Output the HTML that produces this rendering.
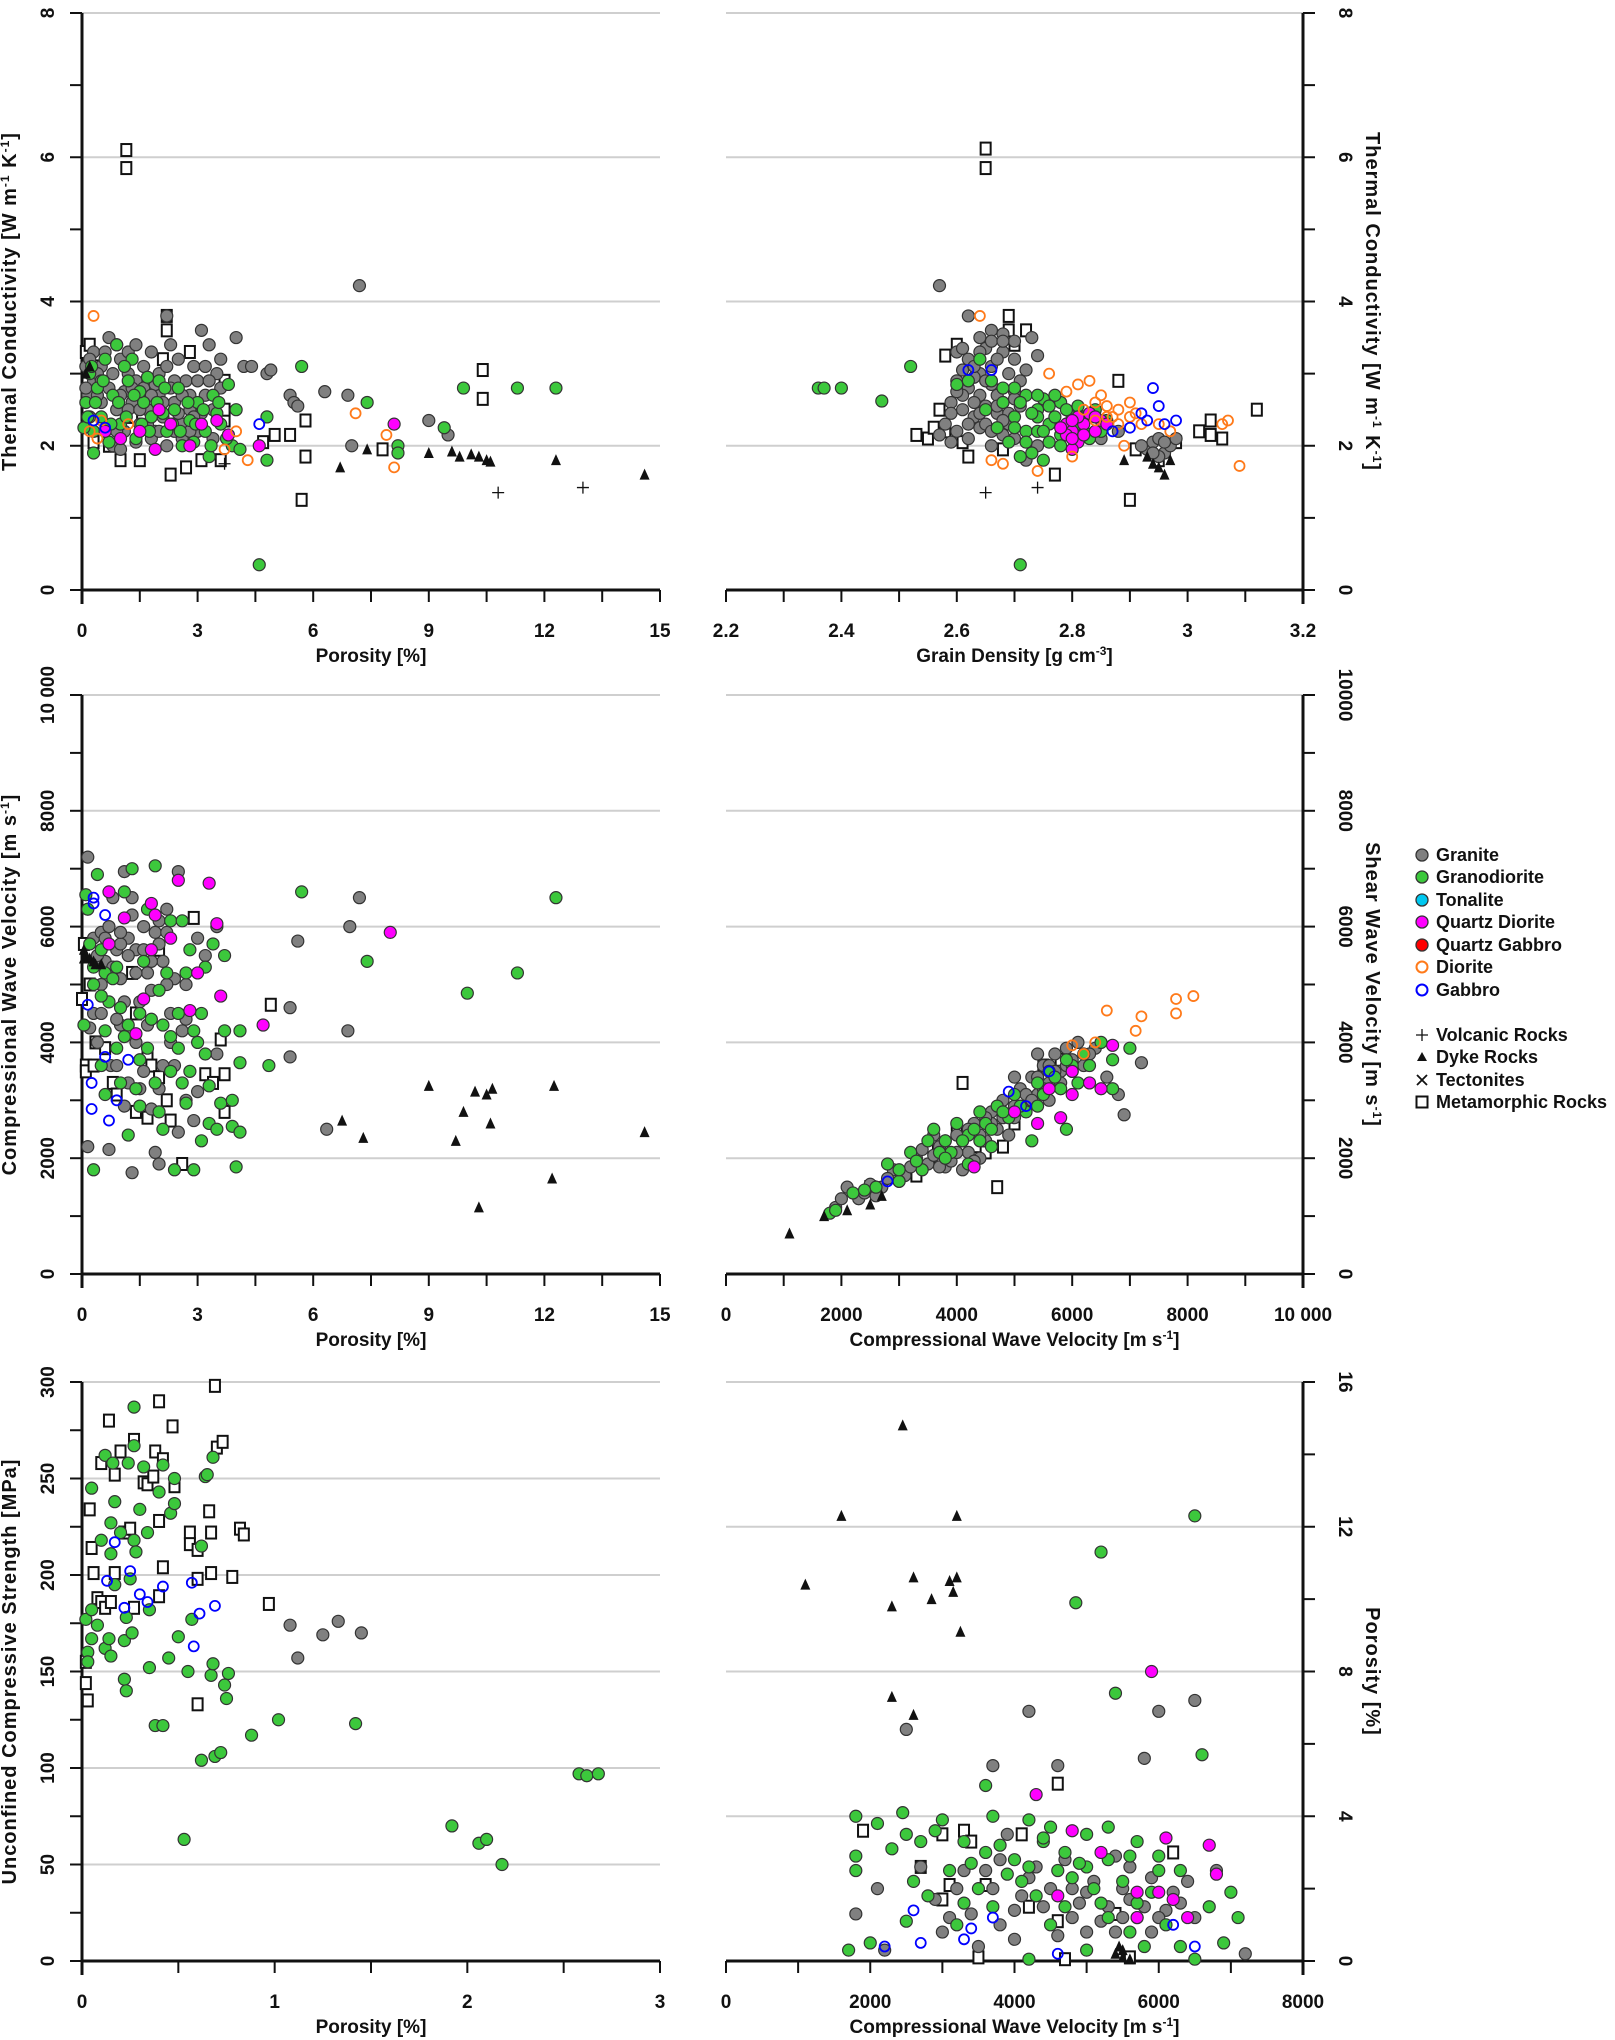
<!DOCTYPE html>
<html><head><meta charset="utf-8"><title>Rock property scatter plots</title>
<style>
html,body{margin:0;padding:0;background:#fff;}
svg{display:block;font-family:"Liberation Sans",Arial,sans-serif;}
.tl{font-size:19px;font-weight:bold;fill:#111;}
.at{font-size:19px;font-weight:bold;fill:#111;}
.yt{font-size:20px;font-weight:bold;fill:#111;letter-spacing:1px;}
.lg{font-size:18px;font-weight:bold;fill:#111;}
</style></head>
<body>
<svg id="fig" width="1615" height="2040" viewBox="0 0 1615 2040" xmlns="http://www.w3.org/2000/svg"></svg>
<script>
// ---------- DATA (x,y pairs) ----------
// Panel A: thermal conductivity vs porosity
const aGranite=[0.3,3.3,0.5,3.1,0.7,3.5,0.9,3.4,1.0,3.2,1.2,3.0,1.4,2.9,1.6,2.8,1.8,3.3,2.0,3.0,2.2,3.8,2.3,3.4,2.5,3.2,2.7,2.9,2.9,3.1,3.1,3.6,3.3,3.4,3.5,3.0,3.2,2.7,2.8,2.5,2.6,2.3,2.4,2.6,2.1,2.4,1.9,2.2,1.7,2.5,1.5,2.3,1.3,2.6,1.1,2.2,0.9,2.5,0.7,2.8,0.5,2.6,0.3,2.9,0.2,2.4,0.6,2.2,0.8,2.0,1.0,1.95,1.4,2.05,1.8,2.1,2.2,2.0,2.6,2.1,3.0,2.2,3.4,2.1,0.4,3.0,1.2,3.3,1.6,3.1,2.0,2.7,2.4,2.9,2.8,2.7,3.6,2.8,4.0,3.5,4.2,3.1,4.4,3.1,4.8,3.0,4.9,3.05,5.4,2.7,5.5,2.6,5.6,2.55,6.3,2.75,6.9,2.7,7.2,4.22,7.0,2.0,9.0,2.35,9.5,2.15,0.1,3.1,0.15,2.7,1.1,2.75,1.9,2.85,2.5,2.45,3.1,2.45,
0.2,3.2,0.4,2.7,0.6,3.3,0.8,3.0,1.0,2.7,1.2,2.5,1.4,3.4,1.6,2.6,1.8,2.7,2.0,2.2,2.2,3.1,2.4,2.2,2.6,2.7,2.8,2.2,3.0,2.9,3.2,3.1,3.4,2.5,3.6,3.2,0.1,2.8,0.5,2.9,1.3,2.8,1.7,2.3,2.3,2.8,2.9,2.4,3.3,2.9,0.9,2.2,1.5,2.5,2.1,2.6];
const aGrano=[0.1,2.6,0.2,3.0,0.3,2.2,0.4,2.8,0.5,2.4,0.6,3.2,0.8,2.7,1.0,2.3,1.2,2.9,1.4,2.1,1.6,2.6,1.8,2.4,2.0,2.9,2.2,2.2,2.4,2.5,2.6,2.0,2.8,2.35,3.0,2.6,3.2,2.2,3.4,2.7,3.6,2.3,3.8,2.85,3.9,2.0,4.0,2.5,4.1,1.95,0.3,1.9,1.3,3.2,1.7,2.95,2.1,2.45,2.9,2.05,3.3,1.85,0.7,2.05,0.05,2.25,4.6,0.35,4.8,2.4,4.8,1.8,5.7,3.1,7.4,2.6,8.2,2.0,8.2,1.9,9.4,2.25,9.9,2.8,11.3,2.8,12.3,2.8,0.9,3.4,1.5,2.75,2.5,2.8,3.5,2.45,
0.15,2.4,0.35,2.6,0.55,2.9,0.75,2.3,0.95,2.6,1.15,2.4,1.35,2.7,1.55,2.3,1.75,2.2,1.95,2.6,2.15,2.8,2.35,2.3,2.55,2.2,2.75,2.6,2.95,2.3,3.15,2.5,3.35,2.0,3.55,2.6,3.75,2.1,0.25,3.1,1.1,3.1];
const aQDiorite=[0.6,2.2,1.0,2.1,1.5,2.2,1.9,1.95,2.3,2.3,2.8,2.0,3.1,2.3,3.5,2.35,3.8,2.15,4.6,2.0,8.1,2.3,2.0,2.5];
const aDiorite=[0.3,3.8,0.2,2.2,0.4,2.1,1.2,2.3,3.7,1.95,4.3,1.8,4.0,2.2,7.1,2.45,7.9,2.15,8.1,1.7,0.5,2.35];
const aGabbro=[0.3,2.35,0.6,2.25,4.6,2.3];
const aMeta=[1.15,6.1,1.15,5.85,2.2,3.8,2.2,3.6,0.1,3.3,0.2,3.4,0.4,3.1,1.7,2.9,2.1,3.2,2.8,3.3,1.5,1.8,1.0,1.8,2.3,1.6,2.7,1.7,3.1,1.8,3.6,1.8,3.7,2.35,3.7,2.5,3.7,2.9,4.7,2.05,5.0,2.15,5.4,2.15,5.8,1.85,5.8,2.35,5.7,1.25,7.8,1.95,10.4,3.05,10.4,2.65,0.3,2.05,0.7,2.0,1.3,2.4];
const aDyke=[6.7,1.7,7.4,1.95,9.0,1.9,9.6,1.92,9.8,1.85,10.1,1.88,10.3,1.85,10.5,1.8,10.6,1.78,12.3,1.8,14.6,1.6,0.1,3.0,0.2,3.1];
const aVolc=[3.7,1.75,10.8,1.35,13.0,1.42];
// Panel B: thermal conductivity vs grain density
const bGranite=[2.57,4.22,2.62,3.8,2.64,3.5,2.66,3.6,2.68,3.55,2.70,3.45,2.60,3.3,2.62,3.2,2.64,3.0,2.66,3.1,2.68,3.3,2.70,3.2,2.72,3.05,2.74,3.25,2.60,2.9,2.62,2.8,2.64,2.7,2.66,2.85,2.68,2.6,2.70,2.75,2.59,2.6,2.61,2.5,2.63,2.4,2.65,2.55,2.67,2.45,2.69,2.3,2.58,2.3,2.60,2.2,2.62,2.1,2.64,2.25,2.66,2.0,2.68,2.15,2.57,2.15,2.59,2.05,2.72,1.8,2.74,2.0,2.63,2.95,2.65,3.35,2.61,3.05,2.67,2.7,2.71,2.55,2.93,1.95,2.94,2.05,2.95,2.1,2.96,1.9,2.97,2.0,2.98,2.1,2.95,1.85,2.92,2.0,2.85,2.1,2.88,2.2,
2.61,3.35,2.63,3.1,2.65,2.9,2.67,3.2,2.69,3.0,2.71,2.9,2.63,2.6,2.65,2.3,2.67,2.55,2.69,2.45,2.61,2.7,2.59,2.45,2.62,2.3,2.64,2.45,2.66,2.2,2.68,2.35,2.70,2.1,2.60,2.75,2.66,3.45,2.68,3.45,2.64,3.3,2.70,2.65,2.73,3.5,2.94,1.9,2.96,2.05];
const bGrano=[2.36,2.8,2.37,2.8,2.40,2.8,2.47,2.62,2.52,3.1,2.71,0.35,2.60,2.85,2.64,3.2,2.66,2.9,2.68,2.6,2.70,2.4,2.72,2.2,2.74,2.5,2.76,2.3,2.78,2.6,2.80,2.4,2.82,2.2,2.84,2.5,2.86,2.35,2.70,2.8,2.72,2.7,2.74,2.2,2.76,2.05,2.73,1.9,2.75,1.8,2.71,1.85,2.69,2.05,2.77,2.7,2.79,2.3,2.81,2.55,2.83,2.1,2.75,2.65,2.78,2.15,2.74,2.4,2.65,2.5,2.67,2.25,
2.62,2.9,2.68,2.8,2.71,2.6,2.73,2.45,2.75,2.2,2.77,2.4,2.79,2.5,2.81,2.3,2.76,2.55,2.72,2.05,2.70,2.25,2.74,2.7,2.78,2.0,2.82,2.4,2.85,2.2];
const bQDiorite=[2.79,2.3,2.80,2.2,2.81,2.05,2.80,1.95,2.82,2.3,2.83,2.45,2.84,2.2,2.79,2.15,2.85,2.35,2.86,2.3,2.81,2.4,2.78,2.25,2.80,2.35,2.82,2.15,2.84,2.4,2.80,2.1];
const bDiorite=[2.64,3.8,2.66,1.8,2.68,1.75,2.74,1.65,2.76,3.0,2.79,2.75,2.80,1.85,2.81,2.85,2.83,2.9,2.84,2.6,2.85,2.7,2.86,2.55,2.87,2.4,2.88,2.5,2.89,2.0,2.90,2.6,2.91,2.45,2.92,2.3,2.95,2.3,2.97,2.2,3.06,2.3,3.07,2.35,3.09,1.72,2.82,2.5,2.86,2.4,2.88,2.3,2.84,2.35,2.90,2.4];
const bGabbro=[2.62,3.05,2.66,3.05,2.87,2.2,2.90,2.25,2.92,2.45,2.94,2.8,2.95,2.55,2.93,2.35,2.96,2.3,2.98,2.35];
const bMeta=[2.65,6.12,2.65,5.85,2.58,3.25,2.60,3.4,2.69,3.8,2.69,3.6,2.72,3.6,2.70,3.4,2.53,2.15,2.55,2.1,2.56,2.25,2.58,2.2,2.57,2.5,2.61,2.05,2.62,1.85,2.68,1.95,2.77,1.6,2.88,2.9,2.90,1.25,2.95,1.8,2.98,2.05,3.02,2.2,3.04,2.35,3.04,2.15,3.06,2.1,3.12,2.5,2.91,1.95];
const bDyke=[2.89,1.8,2.94,1.75,2.95,1.7,2.96,1.6,2.93,1.85,2.97,1.8];
const bVolc=[2.65,1.35,2.74,1.42];
// Panel C: Vp vs porosity
const cGranite=[0.15,7200,0.2,4250,0.15,2200,0.3,5800,0.4,4000,0.5,5900,0.6,5400,0.7,6000,0.75,3600,0.7,2150,0.8,6500,0.9,5600,1.0,5100,1.0,4300,1.1,6950,1.1,2900,1.2,5800,1.3,6500,1.3,1750,1.4,5600,1.5,4700,1.6,6000,1.6,3500,1.7,5200,1.8,4900,1.8,2850,1.9,5900,1.9,2100,2.0,3200,2.0,1900,2.1,5400,2.2,6300,2.3,4500,2.4,5100,2.4,3600,2.5,6950,2.5,2450,2.6,4200,2.7,5000,2.9,2650,3.0,5800,3.0,3150,3.2,5500,3.5,6000,3.5,3800,1.2,3300,0.9,4400,2.2,5900,1.4,4000,0.5,5000,5.4,4600,5.4,3750,5.6,5750,6.35,2500,6.9,4200,6.95,6000,7.2,6500,2.7,3000,1.0,5700,0.3,4500,
0.4,5500,0.6,5800,0.8,5300,1.0,5900,1.2,5500,1.4,5200,1.6,5600,1.8,5400,2.0,5700,2.2,5000,0.5,4500,1.1,4700,1.7,4300,2.3,4000,0.9,3600,1.5,3200,2.1,3600,2.7,4400,1.3,6200,2.0,6100];
const cGrano=[0.05,4300,0.1,6550,0.15,6300,0.2,5700,0.3,1800,0.4,6900,0.5,5600,0.6,5200,0.6,3100,0.7,4700,0.8,5100,1.0,4600,1.1,6600,1.2,2400,1.3,7000,1.4,3200,1.5,3700,1.6,5400,1.7,6300,1.8,4400,1.9,7050,2.0,2800,2.0,4900,2.1,2500,2.2,5200,2.3,6100,2.3,4100,2.4,1800,2.5,3900,2.6,6100,2.7,2950,2.8,5600,2.8,3500,2.9,1800,3.0,4000,3.1,2300,3.1,4500,3.2,5300,3.3,2600,3.3,3250,3.4,5700,3.5,2500,3.6,2950,3.7,4200,3.7,5500,3.9,2550,3.9,3000,4.0,1850,4.1,3650,4.1,4200,4.1,2450,0.3,5000,0.9,3900,1.5,2900,2.5,4500,1.2,4300,0.6,4200,4.85,3600,5.7,6600,7.4,5400,10.0,4850,11.3,5200,12.3,6500,
0.3,5300,0.5,4800,0.9,5300,1.1,4100,1.5,4500,1.7,3900,2.1,4300,2.3,3500,2.7,5200,2.9,4200,0.5,3600,1.0,3300,1.9,3300,2.6,3300,3.2,3800];
const cQDiorite=[0.7,6600,1.1,6150,1.4,4150,1.6,4750,1.8,6400,1.8,5600,1.9,6200,2.3,5800,2.5,6800,2.8,4550,3.0,5200,3.3,6750,3.5,6050,3.6,4800,4.7,4300,8.0,5900,0.7,5700];
const cGabbro=[0.3,6500,0.3,6400,0.6,6200,0.6,3750,0.7,2650,0.25,3300,0.25,2850,0.9,3000,1.2,3700,0.15,4650];
const cMeta=[0.0,4750,0.1,3600,0.1,3500,0.3,3600,0.35,4000,0.6,3900,0.8,3300,0.9,3100,1.3,5200,1.4,2800,1.7,2700,1.7,3800,1.8,3600,2.0,3400,2.2,3000,2.3,2650,2.6,1900,2.9,6150,3.2,3450,3.4,3300,3.6,4050,3.7,3450,3.7,2800,4.9,4650,2.0,5600,1.4,4500,0.2,5000,0.05,5700];
const cDyke=[0.05,5600,0.1,5500,0.2,5450,0.3,5400,0.35,5350,0.5,5350,0.05,5450,6.75,2650,7.3,2350,9.0,3250,9.7,2300,9.9,2800,10.2,3150,10.5,3100,10.6,2600,10.65,3200,10.3,1150,12.25,3250,12.2,1650,14.6,2450];
// Panel D: Vs vs Vp
const dGranite=[1900,1150,2100,1500,2300,1300,2500,1550,2700,1500,2900,1800,3100,1700,3300,2000,3500,1900,3700,2200,3800,1850,4000,2400,4200,2100,4300,2600,4500,2300,4600,2800,4700,2500,4800,3000,5000,2700,5100,3200,5200,2900,5300,3400,5400,3100,5500,3600,5600,3300,5700,3800,5800,3500,5900,3900,6000,3700,6100,4000,6200,3600,6400,3900,6600,3400,6800,3100,6900,2750,7200,3650,4100,1800,3900,1950,5000,3400,5400,3800,4400,2000,3600,2400,5600,3000,
2000,1300,2400,1400,2800,1650,3200,1850,3400,2150,3600,2050,3800,2300,4000,2100,4200,2500,4400,2400,4600,2600,4800,2700,5000,2900,5200,3100,5400,3400,5600,3600,5800,3300,6000,3500,5700,3500,5300,3000,4900,2400,4500,2700,4100,2300,3000,1600,2600,1350,5500,3200,5900,3600,6300,3800,4300,1950,3700,1850];
const dGrano=[1800,1050,1900,1100,2200,1400,2600,1500,2800,1900,3000,1600,3200,2100,3400,1800,3500,2300,3600,2500,3800,2300,4000,2600,4200,2400,4400,2800,4500,2600,4700,2900,4900,2700,5000,3100,5200,2800,5400,3300,5600,3500,5800,3200,6000,3600,6200,3800,6500,4000,6700,3700,7000,3900,6700,3200,5900,2500,5300,2300,4600,2200,4200,1900,3900,2100,5900,3700,
2400,1450,3000,1800,3300,1950,3700,2100,4100,2300,4300,2500,4600,2500,4800,2800,5100,2900,5500,3100,5700,3400,6100,3300,6300,3600,5400,2900,3800,2000,4400,2300];
const dQDiorite=[4300,1850,5000,2800,5400,2600,5800,2700,6000,3100,6300,3300,6500,3200,6700,3950,6000,3500,5600,3200];
const dDiorite=[6000,3950,6200,3800,6400,4000,6600,4550,7100,4200,7200,4450,7800,4500,7800,4750,8100,4800];
const dGabbro=[2800,1600,4900,3150,5200,2900,5600,3500];
const dMeta=[2500,1500,3300,1700,3700,2000,4000,2500,4100,3300,4500,2100,4800,2200,5000,2600,5500,3600,5800,3700,3500,2200,4300,2000,4700,1500];
const dDyke=[1100,700,1700,1000,2100,1100,2500,1200,2700,1350];
// Panel E: UCS vs porosity
const eGrano=[0.02,177,0.03,160,0.03,155,0.05,245,0.05,182,0.05,167,0.08,174,0.1,218,0.12,262,0.12,162,0.14,167,0.15,227,0.15,211,0.15,158,0.16,258,0.17,238,0.17,195,0.2,222,0.22,146,0.22,166,0.23,140,0.23,178,0.24,258,0.25,198,0.26,170,0.27,267,0.27,287,0.27,218,0.28,212,0.3,234,0.32,256,0.34,222,0.35,182,0.35,152,0.38,122,0.4,243,0.42,122,0.42,257,0.45,157,0.46,232,0.48,237,0.48,250,0.5,168,0.53,63,0.55,150,0.57,177,0.62,104,0.62,215,0.64,251,0.65,252,0.67,148,0.68,261,0.68,154,0.69,106,0.72,108,0.74,143,0.75,136,0.76,149,0.88,117,1.02,125,1.42,123,1.92,70,2.06,61,2.1,63,2.18,50,2.58,97,2.62,96,2.68,97];
const eGranite=[1.08,174,1.12,157,1.25,169,1.33,176,1.45,170];
const eGabbro=[0.13,197,0.17,217,0.22,183,0.25,202,0.3,190,0.34,186,0.42,194,0.57,196,0.58,163,0.61,180,0.69,184];
const eMeta=[0.02,144,0.03,135,0.04,234,0.05,214,0.06,201,0.08,188,0.1,258,0.1,186,0.12,183,0.14,280,0.15,186,0.17,252,0.17,201,0.2,264,0.22,222,0.25,224,0.27,270,0.27,183,0.32,248,0.34,247,0.37,251,0.38,264,0.4,290,0.4,228,0.4,189,0.42,260,0.42,204,0.47,277,0.48,246,0.56,222,0.56,216,0.6,133,0.6,213,0.6,198,0.66,233,0.67,222,0.67,201,0.69,298,0.7,266,0.73,269,0.78,199,0.82,224,0.84,221,0.97,185,0.02,155];
// Panel F: porosity vs Vp
const fGrano=[6500,12.3,5200,11.3,4850,9.9,5400,7.4,6600,5.7,3600,4.85,1800,4.0,2450,4.1,3700,4.0,4200,3.9,5300,3.7,2500,3.5,2700,3.3,3000,3.9,1800,2.9,2300,3.1,2900,3.6,3300,3.3,3600,3.0,4000,2.8,4400,3.3,4700,3.0,5000,2.6,5300,2.8,5700,3.3,6000,2.5,1700,0.3,2500,1.1,3100,2.5,3500,2.0,3900,2.4,4300,1.8,4700,1.5,5100,2.0,5500,2.2,6100,1.0,6500,0.05,7000,1.9,7100,1.2,4200,0.05,5000,0.3,5800,0.4,6300,0.4,1800,2.5,2800,1.8,3200,1.0,3700,1.5,4100,2.2,4500,1.0,4900,2.7,5300,1.2,5700,1.6,6000,2.9,6900,0.5,2000,0.5,4400,3.4,4800,2.3,5600,0.8,
2100,3.8,2600,2.2,3400,2.7,3800,3.2,4200,2.6,4600,2.5,5000,3.5,5200,1.6,5600,2.9,5900,1.9,6300,2.5,6700,1.5,3300,1.6,4500,3.7];
const fGranite=[1800,1.3,2200,0.3,2100,2.0,2500,6.4,2700,2.6,3700,5.4,4200,6.9,4600,5.4,5800,5.6,6000,6.9,6500,7.2,2900,1.7,3200,2.0,3400,1.3,3600,2.5,3800,1.0,3900,3.5,4100,1.8,4300,2.6,4500,2.0,4700,2.8,4900,1.6,5100,2.2,5300,1.5,5500,2.0,5700,1.2,5900,2.3,6100,1.4,6300,1.6,6500,1.2,7200,0.2,6800,2.5,4000,0.6,5000,0.8,5400,2.9,3500,0.4,6200,1.9,4800,1.2,5600,2.6,3000,0.8,
3100,1.2,3300,2.5,3700,2.0,4000,1.4,4400,1.5,4600,0.7,4800,2.0,5000,1.9,5200,1.1,5400,0.8,5600,1.7,5800,1.5,6000,1.2,5500,1.2,5900,0.8,6400,2.2,4200,2.3,3800,2.8];
const fQDiorite=[5900,8.0,4300,4.6,4800,3.6,6100,3.4,6700,3.2,6800,2.4,5200,3.0,6200,1.7,5700,1.2,6400,1.2,5700,1.9,6000,1.9,4600,1.8];
const fGabbro=[2200,0.4,2700,0.5,3300,0.6,3400,0.9,3700,1.2,4600,0.2,6200,1.0,6500,0.4,2600,1.4];
const fMeta=[3300,3.6,3400,3.3,3000,3.5,2700,2.6,3100,2.1,3600,2.1,4100,3.5,4600,4.9,6200,3.0,1900,3.6,3000,1.7,3500,0.1,4200,1.5,5600,0.1,4700,0.05,5400,1.3,4600,1.1];
const fDyke=[2450,14.8,1600,12.3,3200,12.3,1100,10.4,2600,10.6,3100,10.5,3200,10.6,2850,10.0,3150,10.2,2300,9.8,3250,9.1,2300,7.3,2600,6.8,5400,0.2,5500,0.1,5600,0.05,5500,0.3,5450,0.4];

// Tick labels
const tcTicks=[0,2,4,6,8];
const porTicks15=[0,3,6,9,12,15];
const rhoTicks=[2.2,2.4,2.6,2.8,3.0,3.2];
const rhoLabels=["2.2","2.4","2.6","2.8","3","3.2"];
const vTicks=[0,2000,4000,6000,8000,10000];
const vLabelsL=["0","2000","4000","6000","8000","10 000"];
const vLabelsR=["0","2000","4000","6000","8000","10000"];
const ucsTicks=[0,50,100,150,200,250,300];
const porTicks3=[0,1,2,3];
const vpTicks8=[0,2000,4000,6000,8000];
const por16Ticks=[0,4,8,12,16];

// ---------- DRAWING ----------
const NS="http://www.w3.org/2000/svg";
const svg=document.getElementById('fig');
const COL={granite:'#808080',grano:'#3cc83c',tonal:'#00c8f0',qdior:'#ff00ff',qgab:'#ff0000',dior:'#ff7a1a',gab:'#0000ff'};
function mk(tag,attrs,parent){const e=document.createElementNS(NS,tag);for(const k in attrs)e.setAttribute(k,attrs[k]);(parent||svg).appendChild(e);return e;}

function panel(cfg){
  const g=mk('g',{});
  
  
  const X=v=>cfg.x0+(v-cfg.xmin)/(cfg.xmax-cfg.xmin)*(cfg.x1-cfg.x0);
  const Y=v=>cfg.yb-(v-cfg.ymin)/(cfg.ymax-cfg.ymin)*(cfg.yb-cfg.yt);
  cfg.X=X;cfg.Y=Y;cfg.g=g;
  cfg.yticks.forEach(v=>{const l=mk('line',{x1:cfg.x0,x2:cfg.x1,y1:Y(v),y2:Y(v),stroke:'#cfcfcf','stroke-width':2},g);
    
    });
  const ax=mk('line',{x1:cfg.x0,x2:cfg.x1,y1:cfg.yb,y2:cfg.yb,stroke:'#111','stroke-width':3},g);
  
  
  for(let v=cfg.xmin;v<=cfg.xmax+1e-9;v+=cfg.xminor){
    const t=mk('line',{x1:X(v),x2:X(v),y1:cfg.yb,y2:cfg.yb+12,stroke:'#111','stroke-width':2},g);
    
    
  }
  cfg.xticks.forEach((v,i)=>{const t=mk('text',{x:X(v),y:cfg.yb+47,'text-anchor':'middle',class:'tl'},g);t.textContent=cfg.xlabels?cfg.xlabels[i]:String(v);
    
    });
  const xt=mk('text',{x:(cfg.x0+cfg.x1)/2,y:cfg.yb+72,'text-anchor':'middle',class:'at'},g);
  xt.innerHTML=cfg.xtitle;
  
  
  const yx=cfg.right?cfg.x1:cfg.x0, dir=cfg.right?1:-1;
  const ya=mk('line',{x1:yx,x2:yx,y1:cfg.yt,y2:cfg.yb+14,stroke:'#111','stroke-width':3},g);
  
  
  for(let v=cfg.ymin;v<=cfg.ymax+1e-9;v+=cfg.yminor){
    const t=mk('line',{x1:yx,x2:yx+dir*12,y1:Y(v),y2:Y(v),stroke:'#111','stroke-width':2},g);
    
    
  }
  cfg.yticks.forEach((v,i)=>{
    const lx=cfg.right?yx+36:yx-28;
    const t=mk('text',{x:lx,y:Y(v),'text-anchor':'middle',class:'tl',transform:`rotate(${cfg.right?90:-90} ${lx} ${Y(v)})`},g);
    t.textContent=cfg.ylabels?cfg.ylabels[i]:String(v);
    
    });
  const tx=cfg.right?1366:16, ty=(cfg.yt+cfg.yb)/2;
  const yt=mk('text',{x:tx,y:ty,'text-anchor':'middle',class:'yt',transform:`rotate(${cfg.right?90:-90} ${tx} ${ty})`},g);
  yt.innerHTML=cfg.ytitle;
  
  
  return cfg;
}
function circles(p,arr,fill,name,open){
  for(let i=0;i<arr.length;i+=2){
    const c=mk('circle',{cx:p.X(arr[i]),cy:p.Y(arr[i+1]),r:open?5:6,fill:open?'none':fill,stroke:open?fill:'#333','stroke-width':open?1.8:1.2},p.g);
    
    
  }
}
function squares(p,arr){
  for(let i=0;i<arr.length;i+=2){
    const s=mk('rect',{x:p.X(arr[i])-5,y:p.Y(arr[i+1])-6,width:10,height:12,fill:'#fff',stroke:'#111','stroke-width':2},p.g);
    
    
  }
}
function tris(p,arr){
  for(let i=0;i<arr.length;i+=2){
    const x=p.X(arr[i]),y=p.Y(arr[i+1]);
    const t=mk('polygon',{points:`${x},${y-6} ${x-5},${y+5} ${x+5},${y+5}`,fill:'#111'},p.g);
    
    
  }
}
function plus(p,arr){
  for(let i=0;i<arr.length;i+=2){
    const x=p.X(arr[i]),y=p.Y(arr[i+1]);
    const t=mk('path',{d:`M${x-6},${y}H${x+6}M${x},${y-6}V${y+6}`,stroke:'#111','stroke-width':1.3},p.g);
    
    
  }
}
function series(p,s){
  if(s.meta)squares(p,s.meta);
  if(s.granite)circles(p,s.granite,COL.granite,'granite-point');
  if(s.grano)circles(p,s.grano,COL.grano,'granodiorite-point');
  if(s.qd)circles(p,s.qd,COL.qdior,'quartz-diorite-point');
  if(s.dior)circles(p,s.dior,COL.dior,'diorite-point',true);
  if(s.gab)circles(p,s.gab,COL.gab,'gabbro-point',true);
  if(s.dyke)tris(p,s.dyke);
  if(s.volc)plus(p,s.volc);
}
const LX0=82,LX1=660,RX0=726,RX1=1303;
const sup=t=>`<tspan dy="-7" font-size="12">${t}</tspan><tspan dy="7">`;
const pA=panel({name:'panel-tc-porosity',x0:LX0,x1:LX1,yt:13,yb:590,xmin:0,xmax:15,xminor:1.5,xticks:porTicks15,ymin:0,ymax:8,yminor:1,yticks:tcTicks,
  xtitle:'Porosity [%]',ytitle:'Thermal Conductivity [W m'+sup('-1')+' K</tspan>'+sup('-1')+']</tspan>'});
series(pA,{meta:aMeta,granite:aGranite,grano:aGrano,qd:aQDiorite,dior:aDiorite,gab:aGabbro,dyke:aDyke,volc:aVolc});
const pB=panel({name:'panel-tc-grain-density',right:true,x0:RX0,x1:RX1,yt:13,yb:590,xmin:2.2,xmax:3.2,xminor:0.1,xticks:rhoTicks,xlabels:rhoLabels,ymin:0,ymax:8,yminor:1,yticks:tcTicks,
  xtitle:'Grain Density [g cm'+sup('-3')+']</tspan>',ytitle:'Thermal Conductivity [W m'+sup('-1')+' K</tspan>'+sup('-1')+']</tspan>'});
series(pB,{meta:bMeta,granite:bGranite,grano:bGrano,qd:bQDiorite,dior:bDiorite,gab:bGabbro,dyke:bDyke,volc:bVolc});
const pC=panel({name:'panel-vp-porosity',x0:LX0,x1:LX1,yt:695,yb:1274,xmin:0,xmax:15,xminor:1.5,xticks:porTicks15,ymin:0,ymax:10000,yminor:1000,yticks:vTicks,ylabels:vLabelsL,
  xtitle:'Porosity [%]',ytitle:'Compressional Wave Velocity [m s'+sup('-1')+']</tspan>'});
series(pC,{meta:cMeta,granite:cGranite,grano:cGrano,qd:cQDiorite,gab:cGabbro,dyke:cDyke});
const pD=panel({name:'panel-vs-vp',right:true,x0:RX0,x1:RX1,yt:695,yb:1274,xmin:0,xmax:10000,xminor:1000,xticks:vTicks,xlabels:vLabelsL,ymin:0,ymax:10000,yminor:1000,yticks:vTicks,ylabels:vLabelsR,
  xtitle:'Compressional Wave Velocity [m s'+sup('-1')+']</tspan>',ytitle:'Shear Wave Velocity [m s'+sup('-1')+']</tspan>'});
series(pD,{meta:dMeta,granite:dGranite,grano:dGrano,qd:dQDiorite,dior:dDiorite,gab:dGabbro,dyke:dDyke});
const pE=panel({name:'panel-ucs-porosity',x0:LX0,x1:LX1,yt:1382,yb:1961,xmin:0,xmax:3,xminor:0.5,xticks:porTicks3,ymin:0,ymax:300,yminor:25,yticks:ucsTicks,
  xtitle:'Porosity [%]',ytitle:'Unconfined Compressive Strength [MPa]'});
series(pE,{meta:eMeta,granite:eGranite,grano:eGrano,gab:eGabbro});
const pF=panel({name:'panel-porosity-vp',right:true,x0:RX0,x1:RX1,yt:1382,yb:1961,xmin:0,xmax:8000,xminor:1000,xticks:vpTicks8,ymin:0,ymax:16,yminor:2,yticks:por16Ticks,
  xtitle:'Compressional Wave Velocity [m s'+sup('-1')+']</tspan>',ytitle:'Porosity [%]'});
series(pF,{meta:fMeta,granite:fGranite,grano:fGrano,qd:fQDiorite,gab:fGabbro,dyke:fDyke});

// ---------- LEGEND ----------
const lg=mk('g',{});


const legItems=[['c',COL.granite,'Granite',855],['c',COL.grano,'Granodiorite',877],['c',COL.tonal,'Tonalite',900],['c',COL.qdior,'Quartz Diorite',922],['c',COL.qgab,'Quartz Gabbro',945],['o',COL.dior,'Diorite',967],['o',COL.gab,'Gabbro',990],['p','','Volcanic Rocks',1035],['t','','Dyke Rocks',1057],['x','','Tectonites',1080],['s','','Metamorphic Rocks',1102]];
legItems.forEach(it=>{
  const [k,c,label,y]=it, x=1422;
  const e=mk('g',{},lg);
  
  
  if(k==='c')mk('circle',{cx:x,cy:y,r:6,fill:c,stroke:'#333','stroke-width':1.3},e);
  if(k==='o')mk('circle',{cx:x,cy:y,r:5.5,fill:'none',stroke:c,'stroke-width':2},e);
  if(k==='p')mk('path',{d:`M${x-6},${y}H${x+6}M${x},${y-6}V${y+6}`,stroke:'#111','stroke-width':1.3},e);
  if(k==='t')mk('polygon',{points:`${x},${y-5} ${x-5},${y+4} ${x+5},${y+4}`,fill:'#111'},e);
  if(k==='x')mk('path',{d:`M${x-5},${y-5}L${x+5},${y+5}M${x+5},${y-5}L${x-5},${y+5}`,stroke:'#111','stroke-width':1.8},e);
  if(k==='s')mk('rect',{x:x-5.5,y:y-5.5,width:11,height:11,fill:'#fff',stroke:'#111','stroke-width':2},e);
  const t=mk('text',{x:1436,y:y+6,class:'lg'},e);t.textContent=label;
});
</script>
</body></html>
